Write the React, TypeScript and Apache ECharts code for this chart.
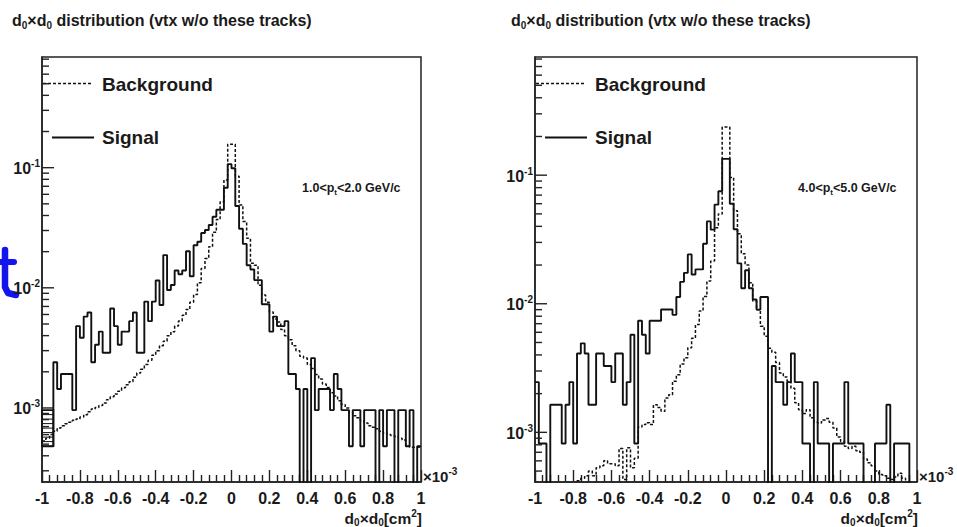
import React, { useEffect, useRef } from 'react';
import * as echarts from 'echarts';

const BIN_COUNT = 100;
const X_MIN = -1;
const X_MAX = 1;
const X_TICK_STEP = 0.2;

const LEFT_Y_RANGE = [0.000242, 0.834];
const RIGHT_Y_RANGE = [0.000411, 0.83];

const yMajorTicks = [0.001, 0.01, 0.1];
const yMajorExponents = ['-3', '-2', '-1'];
const yMinorTicks = [
  0.0003, 0.0004, 0.0005, 0.0006, 0.0007, 0.0008, 0.0009,
  0.002, 0.003, 0.004, 0.005, 0.006, 0.007, 0.008, 0.009,
  0.02, 0.03, 0.04, 0.05, 0.06, 0.07, 0.08, 0.09,
  0.2, 0.3, 0.4, 0.5, 0.6, 0.7, 0.8,
];

const legendLabels = ['Background', 'Signal'];
const ptRanges = [
  ['1.0', '2.0'],
  ['4.0', '5.0'],
];

// panel 1 : 1.0 < pt < 2.0 GeV/c
const leftSignal = [
  0.00048, 0.00048, 0.00048, 0.0024, 0.00144, 0.00192, 0.00192, 0.00192, 0.00096, 0.0048,
  0.00384, 0.00576, 0.00624, 0.0024, 0.00336, 0.00432, 0.00288, 0.00288, 0.00672, 0.0048,
  0.00336, 0.00432, 0.00432, 0.00528, 0.00624, 0.00288, 0.00288, 0.00768, 0.00528, 0.00768,
  0.01152, 0.0072, 0.01872, 0.0096, 0.01056, 0.01392, 0.01296, 0.01392, 0.02016, 0.01248,
  0.0226, 0.0242, 0.0286, 0.0303, 0.0333, 0.039, 0.0446, 0.0446, 0.068, 0.107,
  0.099, 0.048, 0.031, 0.0232, 0.0154, 0.0142, 0.0116, 0.0116, 0.0073, 0.0073,
  0.00432, 0.00576, 0.0048, 0.0048, 0.00528, 0.00192, 0.00192, 0.00144, 0, 0.00144,
  0, 0.0026, 0.00096, 0.00144, 0.00144, 0.00144, 0.00096, 0.00192, 0.00144, 0.00096,
  0.00096, 0.00048, 0.00096, 0.00096, 0.00048, 0.00096, 0.00096, 0.00096, 0, 0.00096,
  0.00048, 0.00096, 0.00096, 0, 0.00096, 0.00096, 0.00048, 0.00096, 0, 0.00048,
];
const leftBackground = [
  0.00053, 0.00056, 0.0006, 0.00064, 0.00068, 0.00071, 0.00074, 0.00076, 0.00079, 0.00081,
  0.00084, 0.00088, 0.00093, 0.00098, 0.00101, 0.00105, 0.0011, 0.00117, 0.00124, 0.00131,
  0.00138, 0.00147, 0.00156, 0.00165, 0.0018, 0.00195, 0.0021, 0.0023, 0.0025, 0.00275,
  0.003, 0.0033, 0.0036, 0.004, 0.0043, 0.0048, 0.0053, 0.0059, 0.0066, 0.0076,
  0.0088, 0.011, 0.0145, 0.0175, 0.022, 0.029, 0.037, 0.052, 0.079, 0.157,
  0.157, 0.085, 0.049, 0.0356, 0.0258, 0.016, 0.0154, 0.0105, 0.0087, 0.0076,
  0.0063, 0.0055, 0.0052, 0.0045, 0.004, 0.0037, 0.0033, 0.003, 0.0027, 0.0026,
  0.0023, 0.00213, 0.0019, 0.00174, 0.00158, 0.00148, 0.00134, 0.00126, 0.00115, 0.00107,
  0.001, 0.00092, 0.00086, 0.00083, 0.00078, 0.00075, 0.00071, 0.00069, 0.00067, 0.00064,
  0.00062, 0.0006, 0.00059, 0.00058, 0.00056, 0.00054, 0.00048, 0.00047, 0.00047, 0.00047,
];
// hatched box in the first bins of panel 1: [x0, x1, yLow, yHigh]
const leftHatch = [[-1, -0.94, 0.00048, 0.00096]];

// panel 2 : 4.0 < pt < 5.0 GeV/c
const rightSignal = [
  0.00246, 0.00082, 0.00082, 0, 0.00164, 0.00164, 0.00164, 0.00082, 0.00164, 0.00246,
  0.00082, 0.0041, 0.00492, 0.0041, 0.00164, 0.00164, 0.0041, 0.0041, 0.00328, 0.00328,
  0.00246, 0.0041, 0.0041, 0.00164, 0.00246, 0.00574, 0.00082, 0.00738, 0.00574, 0.0041,
  0.00738, 0.00738, 0.00738, 0.00902, 0.00902, 0.00902, 0.0082, 0.0113, 0.0148, 0.0174,
  0.0242, 0.0169, 0.0185, 0.0185, 0.0293, 0.0437, 0.0377, 0.059, 0.075, 0.134,
  0.134, 0.06, 0.038, 0.0206, 0.0132, 0.0182, 0.0132, 0.0108, 0.009, 0.0113,
  0.0113, 0, 0.00328, 0.00246, 0.00246, 0.00164, 0.00246, 0.0041, 0.00246, 0.00246,
  0.00082, 0.00082, 0, 0.00246, 0.00082, 0.00082, 0.00082, 0, 0.00082, 0.00082,
  0.00082, 0.00246, 0.00082, 0.00082, 0.00082, 0.00082, 0, 0, 0, 0.00082,
  0.00082, 0.00082, 0.00164, 0, 0.00082, 0.00082, 0.00082, 0.00082, 0, 0,
];
const rightBackground = [
  0, 0, 0, 0, 0, 0, 0, 0, 0, 0,
  0, 0.00042, 0.00044, 0.00046, 0.0005, 0.00046, 0.00053, 0.00055, 0.0006, 0.00057,
  0.00057, 0.00055, 0.00075, 0.00043, 0.00076, 0.00053, 0.00063, 0.0011, 0.00115, 0.00119,
  0.00115, 0.00164, 0.00156, 0.00146, 0.00185, 0.00196, 0.0025, 0.0028, 0.0034, 0.0038,
  0.00455, 0.0054, 0.0069, 0.0088, 0.0114, 0.015, 0.0215, 0.039, 0.05, 0.237,
  0.237, 0.096, 0.053, 0.035, 0.0245, 0.02, 0.0146, 0.0105, 0.009, 0.0067,
  0.0056, 0.0045, 0.0042, 0.0035, 0.0029, 0.0027, 0.0025, 0.0022, 0.0017, 0.0015,
  0.0014, 0.0015, 0.0013, 0.0012, 0.00118, 0.00125, 0.00128, 0.0012, 0.00108, 0.00092,
  0.00085, 0.00078, 0.00075, 0.00078, 0.00072, 0.0007, 0.00062, 0.00058, 0.00055, 0.0005,
  0.00047, 0.00046, 0.00044, 0.00043, 0.00045, 0.00048, 0.00044, 0.0004, 0, 0,
];

const FONT = '"Liberation Sans", Arial, Helvetica, sans-serif';
const INK = '#1a1a1a';

const makeRich = (size: number) => ({
  m: { fontSize: size, fontWeight: 'bold', fontFamily: FONT, fill: INK, color: INK, lineHeight: size + 4 },
  s: { fontSize: Math.round(size * 0.65), fontWeight: 'bold', fontFamily: FONT, fill: INK, color: INK, lineHeight: Math.round(size * 0.65), verticalAlign: 'bottom' },
  p: { fontSize: Math.round(size * 0.65), fontWeight: 'bold', fontFamily: FONT, fill: INK, color: INK, lineHeight: Math.round(size * 0.65), verticalAlign: 'top' },
});

const richText = (x: number, y: number, text: string, size: number, align = 'left') => ({
  type: 'text',
  x,
  y,
  silent: true,
  style: {
    text,
    rich: makeRich(size),
    fill: INK,
    align,
    textAlign: align,
    verticalAlign: 'middle',
    textVerticalAlign: 'middle',
  },
});

const histData = (vals: number[], floor: number) => {
  const step = (X_MAX - X_MIN) / BIN_COUNT;
  const pts = vals.map((v, i) => [X_MIN + i * step, v > 0 ? v : floor]);
  const last = vals[vals.length - 1];
  pts.push([X_MAX, last > 0 ? last : floor]);
  return pts;
};

const histSeries = (vals: number[], idx: number, floor: number, dashed: boolean) => ({
  type: 'line',
  xAxisIndex: idx,
  yAxisIndex: idx,
  step: 'end',
  symbol: 'none',
  showSymbol: false,
  silent: true,
  clip: true,
  z: dashed ? 3 : 4,
  data: histData(vals, floor),
  lineStyle: { color: '#111', width: dashed ? 1.5 : 1.9, type: dashed ? [3, 2] : 'solid' },
});

const tickSeries = (idx: number, range: number[]) => ({
  type: 'custom',
  xAxisIndex: idx,
  yAxisIndex: idx,
  silent: true,
  z: 10,
  encode: { x: 1, y: 0 },
  data: [
    ...yMajorTicks.map((v, i) => [v, 0, 1, i]),
    ...yMinorTicks.filter((v) => v > range[0] && v < range[1]).map((v) => [v, 0, 0, -1]),
  ],
  renderItem: (_params: any, api: any) => {
    const v = api.value(0);
    const major = api.value(2) === 1;
    const li = api.value(3);
    const p = api.coord([X_MIN, v]);
    const len = major ? 12 : 7;
    const children: any[] = [
      {
        type: 'line',
        shape: { x1: p[0], y1: p[1], x2: p[0] + len, y2: p[1] },
        style: { stroke: '#222', lineWidth: 1.4 },
      },
    ];
    if (major) {
      children.push({
        type: 'text',
        x: p[0] - 2,
        y: p[1] + 1,
        style: {
          text: `{m|10}{p|${yMajorExponents[li]}}`,
          rich: makeRich(16),
          fill: INK,
          align: 'right',
          textAlign: 'right',
          verticalAlign: 'middle',
          textVerticalAlign: 'middle',
        },
      });
    }
    return { type: 'group', children };
  },
});

const hatchSeries = {
  type: 'custom',
  xAxisIndex: 0,
  yAxisIndex: 0,
  silent: true,
  z: 4,
  encode: { x: [0, 1], y: [2, 3] },
  data: leftHatch,
  renderItem: (_params: any, api: any) => {
    const a = api.coord([api.value(0), api.value(3)]);
    const b = api.coord([api.value(1), api.value(2)]);
    const children: any[] = [
      {
        type: 'rect',
        shape: { x: a[0], y: a[1], width: b[0] - a[0], height: b[1] - a[1] },
        style: { fill: 'none', stroke: '#111', lineWidth: 1.7 },
      },
    ];
    for (let y = a[1] + 4.5; y < b[1] - 1; y += 4.5) {
      children.push({
        type: 'line',
        shape: { x1: a[0], y1: y, x2: b[0], y2: y },
        style: { stroke: '#111', lineWidth: 1 },
      });
    }
    return { type: 'group', children };
  },
};

const xAxisFor = (idx: number) => ({
  type: 'value',
  gridIndex: idx,
  min: X_MIN,
  max: X_MAX,
  interval: X_TICK_STEP,
  axisLine: { show: true, onZero: false, lineStyle: { color: '#222', width: 1.5 } },
  axisTick: { show: true, inside: true, length: 12, lineStyle: { color: '#222', width: 1.4 } },
  minorTick: { show: true, splitNumber: 5, length: 7, lineStyle: { color: '#222', width: 1.4 } },
  splitLine: { show: false },
  minorSplitLine: { show: false },
  axisLabel: {
    margin: 8,
    fontSize: 16,
    fontWeight: 'bold',
    fontFamily: FONT,
    color: INK,
    formatter: (v: number) => String(Math.round(v * 10) / 10),
  },
});

const yAxisFor = (idx: number, range: number[]) => ({
  type: 'log',
  logBase: 10,
  gridIndex: idx,
  min: range[0],
  max: range[1],
  axisLine: { show: true, onZero: false, lineStyle: { color: '#222', width: 1.5 } },
  axisTick: { show: false },
  axisLabel: { show: false },
  splitLine: { show: false },
});

const TITLE = '{m|d}{s|0}{m|×d}{s|0}{m| distribution (vtx w/o these tracks)}';
const XTITLE = '{m|d}{s|0}{m|×d}{s|0}{m|[cm}{p|2}{m|]}';

const panelGraphics = (ox: number, gx: number, gr: number, idx: number) => [
  richText(ox, 20, TITLE, 16),
  {
    type: 'line',
    silent: true,
    shape: { x1: gx + 1, y1: 83.5, x2: gx + 49, y2: 83.5 },
    style: { stroke: '#111', lineWidth: 1.4, lineDash: [3, 2] },
  },
  {
    type: 'line',
    silent: true,
    shape: { x1: gx + 10, y1: 137.5, x2: gx + 52, y2: 137.5 },
    style: { stroke: '#111', lineWidth: 1.8 },
  },
  richText(gx + 60, 84, `{m|${legendLabels[0]}}`, 19),
  richText(gx + 60, 137.5, `{m|${legendLabels[1]}}`, 19),
  richText(gr - 119, 188, `{m|${ptRanges[idx][0]}<p}{s|t}{m|<${ptRanges[idx][1]} GeV/c}`, 12.5),
  richText(gr + 2, 476, '{m|×10}{p|-3}', 15),
  richText(gr + 1, 518, XTITLE, 15.5, 'right'),
];

export default function App() {
  const ref = useRef<HTMLDivElement>(null);
  useEffect(() => {
    document.body.style.margin = '0';
    if (!ref.current) return;
    const chart = echarts.init(ref.current, undefined, { renderer: 'svg' });
    const option: any = {
      animation: false,
      backgroundColor: '#ffffff',
      grid: [
        { left: 42, top: 57, width: 379, height: 425, show: true, borderColor: '#222', borderWidth: 1.5, backgroundColor: 'transparent' },
        { left: 535, top: 57, width: 382, height: 425, show: true, borderColor: '#222', borderWidth: 1.5, backgroundColor: 'transparent' },
      ],
      xAxis: [xAxisFor(0), xAxisFor(1)],
      yAxis: [yAxisFor(0, LEFT_Y_RANGE), yAxisFor(1, RIGHT_Y_RANGE)],
      series: [
        histSeries(leftBackground, 0, LEFT_Y_RANGE[0] / 20, true),
        histSeries(leftSignal, 0, LEFT_Y_RANGE[0] / 20, false),
        hatchSeries,
        tickSeries(0, LEFT_Y_RANGE),
        histSeries(rightBackground, 1, RIGHT_Y_RANGE[0] / 20, true),
        histSeries(rightSignal, 1, RIGHT_Y_RANGE[0] / 20, false),
        tickSeries(1, RIGHT_Y_RANGE),
      ],
      graphic: {
        elements: [
          ...panelGraphics(12, 42, 421, 0),
          ...panelGraphics(511, 535, 917, 1),
          {
            type: 'polyline',
            silent: true,
            shape: { points: [[5, 250], [5, 287], [8, 293], [16, 295]] },
            style: { stroke: '#1414ee', lineWidth: 6.5, fill: 'none', lineCap: 'round', lineJoin: 'round' },
          },
          {
            type: 'line',
            silent: true,
            shape: { x1: 0, y1: 262, x2: 14, y2: 262 },
            style: { stroke: '#1414ee', lineWidth: 6, lineCap: 'round' },
          },
        ],
      },
    };
    chart.setOption(option);
    return () => chart.dispose();
  }, []);
  return (
    <div
      ref={ref}
      style={{ position: 'fixed', left: 0, top: 0, width: 957, height: 527, background: '#fff' }}
    />
  );
}
